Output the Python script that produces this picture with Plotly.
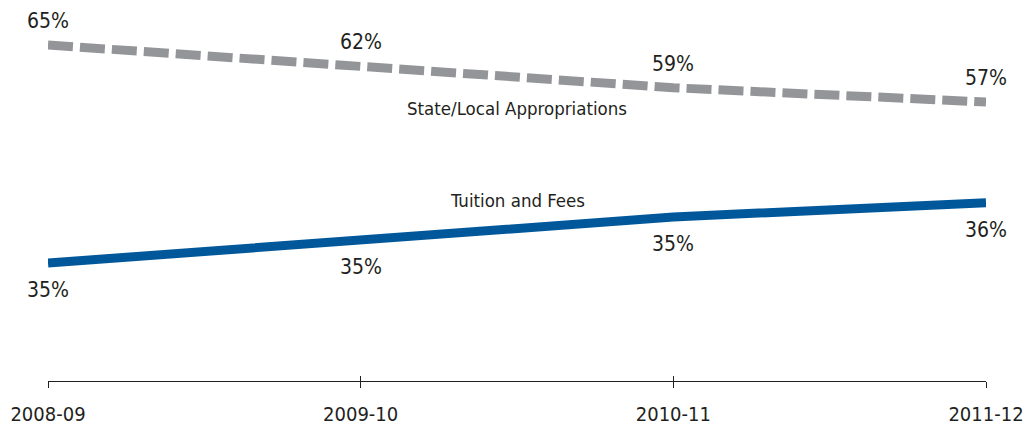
import plotly.graph_objects as go

years = ["2008-09", "2009-10", "2010-11", "2011-12"]
state_local = [65, 62, 59, 57]
tuition = [34.6, 35.0, 35.4, 35.65]
state_labels = ["65%", "62%", "59%", "57%"]
tuition_labels = ["35%", "35%", "35%", "36%"]
series_names = ["State/Local Appropriations", "Tuition and Fees"]

FONT = "DejaVu Sans Condensed, Liberation Sans Narrow, sans-serif"
TXT = "#231f20"
GRAY = "#939598"
BLUE = "#00589b"

xs = list(range(len(years)))

fig = go.Figure()
fig.add_trace(go.Scatter(x=xs, y=state_local, mode="lines", name=series_names[0],
                         line=dict(color=GRAY, width=9, dash="25px,7px"),
                         yaxis="y", hoverinfo="skip"))
fig.add_trace(go.Scatter(x=xs, y=tuition, mode="lines", name=series_names[1],
                         line=dict(color=BLUE, width=9),
                         yaxis="y2", hoverinfo="skip"))
# second x axis only to draw inside tick marks (ticks cross the axis line)
fig.add_trace(go.Scatter(x=xs, y=state_local, mode="lines", xaxis="x2", yaxis="y",
                         line=dict(width=0), showlegend=False, hoverinfo="skip",
                         opacity=0))

annotations = []
for x, v, t in zip(xs, state_local, state_labels):
    annotations.append(dict(x=x, y=v, xref="x", yref="y", text=t, showarrow=False,
                            yshift=24, yanchor="middle",
                            font=dict(family=FONT, size=21, color=TXT)))
for x, v, t in zip(xs, tuition, tuition_labels):
    annotations.append(dict(x=x, y=v, xref="x", yref="y2", text=t, showarrow=False,
                            yshift=-27, yanchor="middle",
                            font=dict(family=FONT, size=21, color=TXT)))
annotations.append(dict(x=1.5, y=0.7165, xref="x", yref="paper", text=series_names[0],
                        showarrow=False, yanchor="middle", xanchor="center",
                        font=dict(family=FONT, size=18.5, color=TXT)))
annotations.append(dict(x=1.5, y=0.475, xref="x", yref="paper", text=series_names[1],
                        showarrow=False, yanchor="middle", xanchor="center",
                        font=dict(family=FONT, size=18.5, color=TXT)))

fig.update_layout(
    width=1027, height=430,
    margin=dict(l=48, r=41, t=0, b=49),
    paper_bgcolor="white", plot_bgcolor="white",
    showlegend=False,
    annotations=annotations,
    xaxis=dict(range=[0, 3], tickvals=xs, ticktext=years, showgrid=False, zeroline=False,
               showline=True, linecolor="#231f20", linewidth=1.2, automargin=False,
               ticks="outside", ticklen=6, tickcolor="#231f20", tickwidth=1.2,
               tickfont=dict(family=FONT, size=20, color=TXT), ticklabelstandoff=9),
    xaxis2=dict(range=[0, 3], overlaying="x", side="bottom", anchor="y", tickvals=xs,
                showticklabels=False, showgrid=False, zeroline=False, showline=False,
                automargin=False,
                ticks="inside", ticklen=5, tickcolor="#231f20", tickwidth=1.2),
    yaxis=dict(range=[17.84, 71.32], visible=False, showgrid=False, zeroline=False,
               automargin=False),
    yaxis2=dict(range=[32.548, 39.174], overlaying="y", visible=False, showgrid=False,
                zeroline=False, automargin=False),
)

fig.write_html("out.html", config={"displayModeBar": False},
               post_script="document.body.style.margin='0';"
                           "document.body.style.overflow='hidden';")
